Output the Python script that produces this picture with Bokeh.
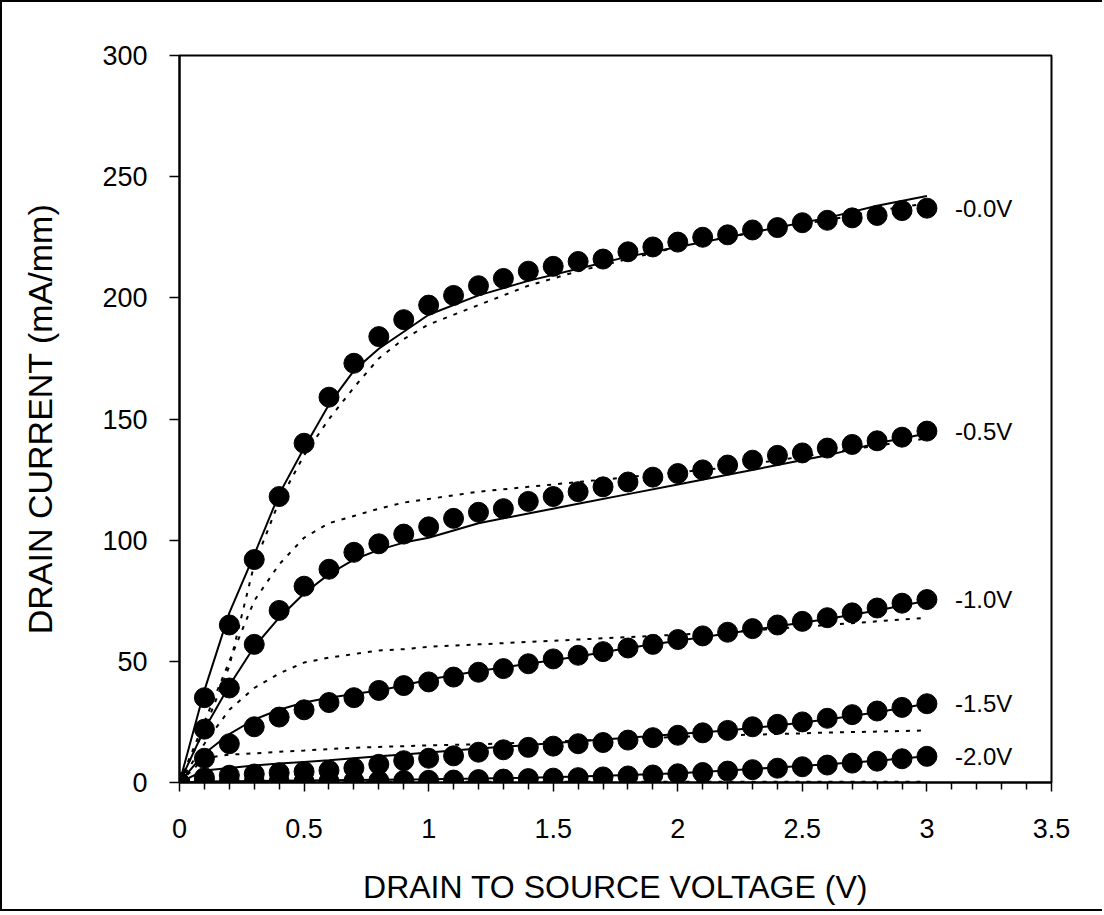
from bokeh.plotting import figure
from bokeh.models import Range1d, FixedTicker
from bokeh.core.properties import value
from bokeh.embed import file_html
from bokeh.resources import INLINE

# ---------------- data ----------------
vds_meas = [0.0, 0.1, 0.2, 0.3, 0.4, 0.5, 0.6, 0.7, 0.8, 0.9, 1.0,
            1.1, 1.2, 1.3, 1.4, 1.5, 1.6, 1.7, 1.8, 1.9, 2.0,
            2.1, 2.2, 2.3, 2.4, 2.5, 2.6, 2.7, 2.8, 2.9, 3.0]

meas_vg_00 = [0, 35, 65, 92, 118, 140, 159, 173, 184, 191, 197,
              201, 205, 208, 211, 213, 215, 216, 219, 221, 223,
              225, 226, 228, 229, 231, 232, 233, 234, 236, 237]
meas_vg_05 = [0, 22, 39, 57, 71, 81, 88, 95, 98.5, 102.5, 105.5,
              109, 111.5, 113, 116, 118, 120, 122, 124, 126, 127.5,
              129, 131, 133, 135, 136, 138, 139.5, 141, 142.5, 145]
meas_vg_10 = [0, 10, 16, 23, 27, 30, 33, 35, 38, 40, 41.5,
              43.5, 45.5, 47, 49, 51, 52.5, 54, 55.5, 57, 59,
              60.5, 62, 63.5, 65, 66.5, 68, 70, 72, 74, 75.5]
meas_vg_15 = [0, 2, 3, 3.5, 4, 4.5, 5, 6, 7.5, 9, 10,
              11, 12.5, 13.5, 14.5, 15, 16, 16.5, 17.5, 18.5, 19.5,
              20.5, 21.5, 23, 24, 25, 26.5, 28, 29.5, 31, 32.5]
meas_vg_20 = [0, 0.3, 0.3, 0.3, 0.4, 0.4, 0.5, 0.6, 0.7, 0.8, 0.9,
              1.0, 1.2, 1.4, 1.6, 1.8, 2.0, 2.3, 2.7, 3.1, 3.6,
              4.1, 4.7, 5.3, 5.9, 6.5, 7.2, 8.0, 8.8, 9.8, 10.8]

vds_model = [0.0, 0.1, 0.2, 0.3, 0.4, 0.5, 0.6, 0.7, 0.8, 0.9, 1.0,
             1.2, 1.4, 1.6, 1.8, 2.0, 2.2, 2.4, 2.6, 2.8, 3.0]

solid_vg_00 = [0, 38, 70, 94, 119, 138, 156, 170, 179, 186, 193,
               201, 207, 212, 217, 221, 225, 229, 233, 238, 242]
solid_vg_05 = [0, 22, 40, 56, 68, 78, 86, 92, 96, 99, 101,
               107, 111, 115, 119, 123, 127, 131, 135, 140, 144]
solid_vg_10 = [0, 12, 20, 26, 30, 33, 35, 36.5, 38, 40, 42.5,
               46, 49, 52, 55.5, 58.5, 61.5, 64.5, 67.5, 71, 75]
solid_vg_15 = [0, 5, 6, 7, 7.8, 8.5, 9.2, 10, 10.8, 11.6, 12.4,
               14, 15.5, 17, 18.5, 20, 21.5, 23.5, 26, 29, 32.5]
solid_vg_20 = [0, 0.4, 0.5, 0.6, 0.7, 0.8, 0.9, 1.0, 1.1, 1.2, 1.3,
               1.6, 2.0, 2.5, 3.1, 3.8, 5.0, 6.2, 7.5, 9.0, 10.8]

dotted_vg_00 = [0, 22, 48, 90, 116, 135, 150, 163, 175, 183, 189,
                197, 205, 211, 216, 221, 225, 229, 232, 236, 239]
dotted_vg_05 = [0, 25, 50, 75, 90, 101, 107, 110, 113, 115.5, 117,
                120, 122, 124, 126, 128, 130, 133, 136, 139, 142]
dotted_vg_10 = [0, 16, 30, 39, 45, 49.5, 51.5, 53, 54.5, 55, 56,
                57, 58, 59, 60, 61, 62, 63.5, 65, 66.5, 68]
dotted_vg_15 = [0, 10, 11.5, 12, 12.7, 13.2, 13.8, 14.3, 14.7, 15, 15.3,
                15.8, 16.5, 17.3, 18, 18.8, 19.5, 20, 20.6, 21, 21.5]
dotted_vg_20 = [0, 0.2, 0.3, 0.3, 0.3, 0.3, 0.3, 0.3, 0.3, 0.3, 0.3,
                0.3, 0.3, 0.3, 0.3, 0.3, 0.3, 0.3, 0.3, 0.3, 0.3]

gate_labels = ["-0.0V", "-0.5V", "-1.0V", "-1.5V", "-2.0V"]

x_ticks = [0, 0.5, 1, 1.5, 2, 2.5, 3, 3.5]
x_tick_labels = ["0", "0.5", "1", "1.5", "2", "2.5", "3", "3.5"]
x_minor_ticks = [0.1, 0.2, 0.3, 0.4, 0.6, 0.7, 0.8, 0.9, 1.1, 1.2, 1.3, 1.4,
                 1.6, 1.7, 1.8, 1.9, 2.1, 2.2, 2.3, 2.4, 2.6, 2.7, 2.8, 2.9,
                 3.1, 3.2, 3.3, 3.4]
y_ticks = [0, 50, 100, 150, 200, 250, 300]
y_tick_labels = ["0", "50", "100", "150", "200", "250", "300"]

# ---------------- figure ----------------
FONT = "Liberation Sans"

p = figure(width=1102, height=911, output_backend="svg", toolbar_location=None,
           x_range=Range1d(0, 3.5), y_range=Range1d(0, 300),
           min_border_left=177, min_border_right=53,
           min_border_top=53, min_border_bottom=131)
p.styles = {"border-top": "2px solid black", "border-left": "2px solid black",
            "border-bottom": "2px solid black"}
p.background_fill_color = "white"
p.border_fill_color = "white"
p.outline_line_color = "black"
p.outline_line_width = 2
p.xgrid.visible = False
p.ygrid.visible = False

p.xaxis.ticker = FixedTicker(ticks=x_ticks, minor_ticks=x_minor_ticks)
p.xaxis.major_label_overrides = dict(zip(x_ticks, x_tick_labels))
p.yaxis.ticker = FixedTicker(ticks=y_ticks, minor_ticks=[])
p.yaxis.major_label_overrides = dict(zip(y_ticks, y_tick_labels))

for ax in (p.xaxis, p.yaxis):
    ax.axis_line_color = "black"
    ax.axis_line_width = 2
    ax.major_tick_line_color = "black"
    ax.major_tick_line_width = 1.5
    ax.minor_tick_line_color = "black"
    ax.minor_tick_line_width = 1.5
    ax.major_tick_in = 0
    ax.minor_tick_in = 0
    ax.major_label_text_font = FONT
    ax.major_label_text_font_size = "27px"
    ax.major_label_text_color = "black"
    ax.axis_label_text_font = FONT
    ax.axis_label_text_font_style = "normal"
    ax.axis_label_text_color = "black"

p.xaxis.major_tick_out = 9
p.xaxis.minor_tick_out = 7
p.xaxis.major_label_standoff = 27
p.xaxis.axis_label_standoff = 28
p.xaxis.axis_label_text_font_size = "32px"
p.xaxis.axis_label = "DRAIN TO SOURCE VOLTAGE (V)"

p.yaxis.major_tick_out = 10
p.yaxis.minor_tick_out = 0
p.yaxis.major_label_standoff = 22
p.yaxis.axis_label_standoff = 40
p.yaxis.axis_label_text_font_size = "34px"
p.yaxis.axis_label = "DRAIN CURRENT (mA/mm)"

meas = [meas_vg_00, meas_vg_05, meas_vg_10, meas_vg_15, meas_vg_20]
solid = [solid_vg_00, solid_vg_05, solid_vg_10, solid_vg_15, solid_vg_20]
dotted = [dotted_vg_00, dotted_vg_05, dotted_vg_10, dotted_vg_15, dotted_vg_20]

for s, d, m in zip(solid, dotted, meas):
    p.line(vds_model, d, line_color="black", line_width=2, line_dash="4 7")
    p.line(vds_model, s, line_color="black", line_width=2)
    p.scatter(vds_meas, m, size=20, marker="circle",
              fill_color="black", line_color="black")

p.text(x=[vds_meas[-1]] * len(gate_labels), y=[m[-1] for m in meas],
       text=gate_labels, x_offset=28, text_baseline="middle", text_align="left",
       text_font=value(FONT), text_font_size="24px", text_color="black")

open("out.html", "w").write(file_html(p, INLINE))
